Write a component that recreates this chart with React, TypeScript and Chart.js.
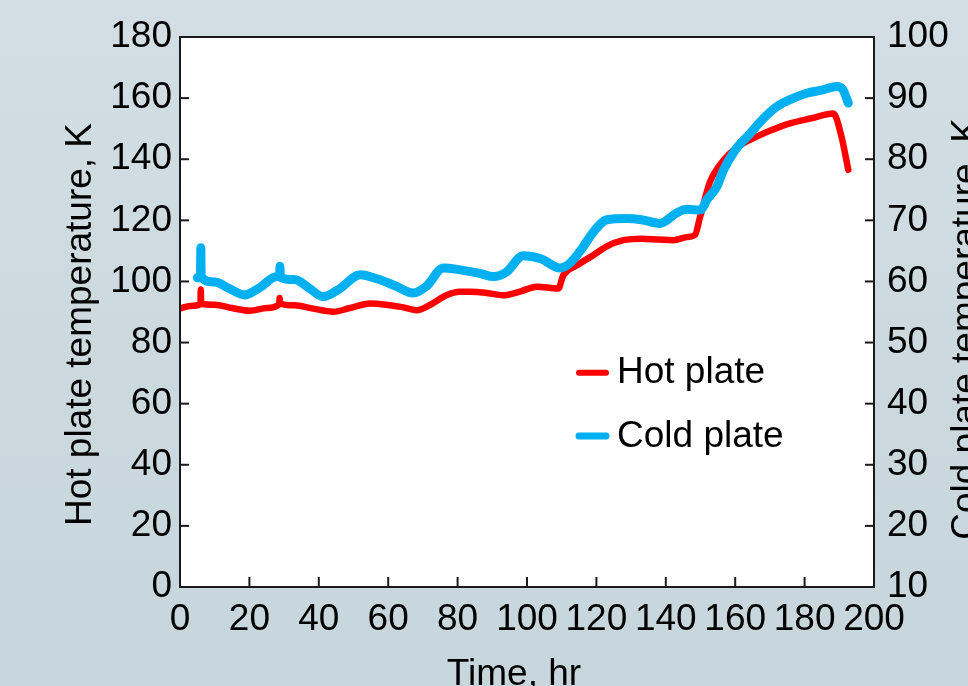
import React, { useEffect, useRef } from 'react';
import { Chart, registerables } from 'chart.js';

Chart.register(...registerables);

// ---- Data ----
const hotTime = [0, 3, 5.9, 6, 6.1, 10, 15, 20.2, 25, 28.6, 28.7, 28.8, 33, 38, 44.2, 49, 54.8, 60, 64, 68.2, 72, 76.8, 80.7, 83.6, 88, 93.1, 98, 102.8, 109, 110.5, 114, 119.1, 123, 127.8, 133, 138, 142.2, 146, 148.4, 149.9, 152.7, 155.5, 158.5, 162, 166.2, 170, 175.8, 182, 188.3, 190.5, 192.6];
const hotTemp = [91.2, 92, 92.6, 97.4, 92.7, 92.4, 91.3, 90.4, 91.3, 92.6, 94.6, 92.8, 92.2, 91.2, 90.1, 91.3, 92.8, 92.3, 91.6, 90.6, 92.3, 95.5, 96.6, 96.6, 96.3, 95.5, 96.7, 98.3, 97.7, 102.1, 105, 108.6, 111.5, 113.5, 114, 113.7, 113.5, 114.5, 115.2, 121.2, 132.5, 138, 141.9, 145, 147.4, 149.3, 151.7, 153.4, 155, 148, 136.5];

const coldTime = [5.0, 5.9, 6, 6.1, 10, 14, 18.7, 23, 27.9, 28.7, 28.8, 28.9, 33, 37, 41.3, 46, 51.9, 57, 62, 67.2, 71, 75.9, 80.7, 86.5, 90.3, 94, 98.9, 104, 109.5, 112.4, 116, 119, 123, 128.7, 133, 138.3, 143.1, 146, 149.9, 152, 154.7, 156.6, 160, 164.3, 168, 172, 176, 180.6, 185, 189.3, 191, 192.6];
const coldTemp = [60.6, 60.6, 65.5, 60.7, 59.9, 58.9, 57.8, 59, 60.8, 60.8, 62.5, 60.7, 60.3, 59, 57.5, 58.8, 61.1, 60.4, 59.3, 58.1, 59.2, 62.2, 61.9, 61.3, 60.8, 61.5, 64.2, 63.7, 62.2, 63, 65.5, 68, 70.1, 70.3, 70.1, 69.5, 71.2, 71.8, 71.7, 73.5, 75.5, 78.2, 81.5, 84.2, 86.6, 88.6, 89.8, 90.8, 91.3, 91.9, 91.4, 89.2];

const seriesNames = ['Hot plate', 'Cold plate'];
const xTitle = 'Time, hr';
const yTitle = 'Hot plate temperature, K';
const y2Title = 'Cold plate temperature, K';

const HOT = '#ff0000';
const COLD = '#00b0f0';
const FONT = "'Liberation Sans', Arial, sans-serif";

const framePlugin = {
  id: 'frame',
  beforeDraw(chart: any) {
    const { ctx, width, height, chartArea } = chart;
    ctx.save();
    const g = ctx.createLinearGradient(0, 0, 0, height);
    g.addColorStop(0, '#d2dee3');
    g.addColorStop(1, '#c6d6dc');
    ctx.fillStyle = g;
    ctx.fillRect(0, 0, width, height);
    ctx.fillStyle = '#ffffff';
    ctx.fillRect(chartArea.left, chartArea.top, chartArea.right - chartArea.left, chartArea.bottom - chartArea.top);
    ctx.restore();
  },
  afterDraw(chart: any) {
    const { ctx, chartArea } = chart;
    const { left, right, top, bottom } = chartArea;
    ctx.save();
    ctx.strokeStyle = '#1a1a1a';
    ctx.lineWidth = 2;
    ctx.strokeRect(left, top, right - left, bottom - top);
    // inward ticks
    const xs = chart.scales.x;
    xs.ticks.forEach((t: any) => {
      const p = xs.getPixelForValue(t.value);
      ctx.beginPath();
      ctx.moveTo(p, bottom);
      ctx.lineTo(p, bottom - 10);
      ctx.stroke();
    });
    const ys = chart.scales.y;
    ys.ticks.forEach((t: any) => {
      const p = ys.getPixelForValue(t.value);
      ctx.beginPath();
      ctx.moveTo(left, p);
      ctx.lineTo(left + 9, p);
      ctx.stroke();
    });
    const y2s = chart.scales.y2;
    y2s.ticks.forEach((t: any) => {
      const p = y2s.getPixelForValue(t.value);
      ctx.beginPath();
      ctx.moveTo(right, p);
      ctx.lineTo(right - 9, p);
      ctx.stroke();
    });

    // axis titles
    ctx.fillStyle = '#000000';
    ctx.font = `37px ${FONT}`;
    ctx.textAlign = 'center';
    ctx.textBaseline = 'alphabetic';
    ctx.fillText(xTitle, 514, 684.5);
    ctx.save();
    ctx.translate(90.7, 324.5);
    ctx.rotate(-Math.PI / 2);
    ctx.fillText(yTitle, 0, 0);
    ctx.restore();
    ctx.save();
    ctx.translate(976.5, 329);
    ctx.rotate(-Math.PI / 2);
    ctx.fillText(y2Title, 0, 0);
    ctx.restore();

    // legend
    const items = [
      { name: seriesNames[0], color: HOT, y: 372.7, base: 383.3, w: 6 },
      { name: seriesNames[1], color: COLD, y: 436, base: 447.3, w: 7 },
    ];
    items.forEach((it) => {
      ctx.strokeStyle = it.color;
      ctx.lineWidth = it.w;
      ctx.lineCap = 'round';
      ctx.beginPath();
      ctx.moveTo(579, it.y);
      ctx.lineTo(606, it.y);
      ctx.stroke();
      ctx.fillStyle = '#000000';
      ctx.textAlign = 'left';
      ctx.fillText(it.name, 617, it.base);
    });
    ctx.restore();
  },
};

export default function App() {
  const ref = useRef<HTMLCanvasElement | null>(null);

  useEffect(() => {
    document.body.style.margin = '0';
    const canvas = ref.current!;
    const chart = new Chart(canvas, {
      type: 'line',
      data: {
        datasets: [
          {
            label: seriesNames[0],
            data: hotTime.map((t, i) => ({ x: t, y: hotTemp[i] })),
            borderColor: HOT,
            backgroundColor: HOT,
            borderWidth: 6.5,
            pointRadius: 0,
            cubicInterpolationMode: 'monotone',
            borderCapStyle: 'round',
            borderJoinStyle: 'round',
            yAxisID: 'y',
            order: 1,
          },
          {
            label: seriesNames[1],
            data: coldTime.map((t, i) => ({ x: t, y: coldTemp[i] })),
            borderColor: COLD,
            backgroundColor: COLD,
            borderWidth: 9,
            pointRadius: 0,
            cubicInterpolationMode: 'monotone',
            borderCapStyle: 'round',
            borderJoinStyle: 'round',
            yAxisID: 'y2',
            order: 0,
          },
        ],
      },
      options: {
        responsive: false,
        animation: false,
        devicePixelRatio: 1,
        layout: { padding: { top: 37, left: 0, right: 0, bottom: 0 } },
        plugins: { legend: { display: false }, tooltip: { enabled: false } },
        scales: {
          x: {
            type: 'linear',
            min: 0,
            max: 200,
            ticks: { stepSize: 20, color: '#000', padding: 11, font: { family: FONT, size: 37 }, maxRotation: 0, autoSkip: false },
            grid: { display: false, drawTicks: false },
            border: { display: false },
            afterFit: (s: any) => { s.height = 99; },
          },
          y: {
            type: 'linear',
            position: 'left',
            min: 0,
            max: 180,
            ticks: { stepSize: 20, color: '#000', padding: 8, font: { family: FONT, size: 37 }, autoSkip: false },
            grid: { display: false, drawTicks: false },
            border: { display: false },
            afterFit: (s: any) => { s.width = 180; },
          },
          y2: {
            type: 'linear',
            position: 'right',
            min: 10,
            max: 100,
            ticks: { stepSize: 10, color: '#000', padding: 13, font: { family: FONT, size: 37 }, autoSkip: false },
            grid: { display: false, drawTicks: false },
            border: { display: false },
            afterFit: (s: any) => { s.width = 94; },
          },
        },
      } as any,
      plugins: [framePlugin],
    });
    return () => chart.destroy();
  }, []);

  return (
    <div style={{ width: 968, height: 686, position: 'relative' }}>
      <canvas ref={ref} width={968} height={686} style={{ display: 'block', width: 968, height: 686 }} />
    </div>
  );
}
